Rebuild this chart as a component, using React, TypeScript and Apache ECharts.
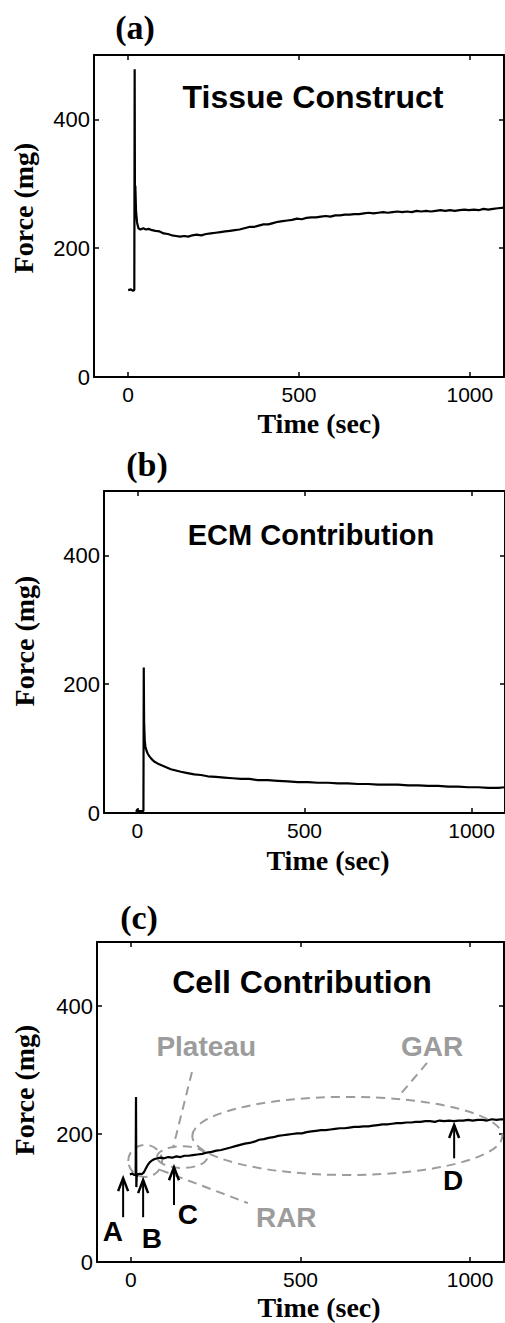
import React, { useEffect, useRef } from "react";
import * as echarts from "echarts";

// ---------- data (time in sec, force in mg) ----------
const tissueData: number[][] = [
  [0, 135], [8, 136], [14, 134], [18, 135], [19, 478], [20, 250], [21, 297], [23, 258], [26, 240], [30, 231],
  [36, 229], [44, 231], [52, 229], [60, 230], [70, 228], [80, 227], [92, 226], [104, 223], [116, 222], [128, 220],
  [140, 219], [152, 218], [164, 219], [176, 218], [188, 220], [200, 221], [214, 220], [228, 222], [242, 223], [256, 224],
  [270, 225], [284, 226], [298, 227], [312, 228], [326, 229], [340, 231], [354, 233], [368, 233], [382, 235], [396, 237],
  [410, 237], [424, 239], [438, 241], [452, 242], [466, 243], [480, 244], [494, 246], [508, 245], [522, 247], [536, 248],
  [550, 248], [564, 249], [578, 250], [592, 249], [606, 251], [620, 251], [634, 252], [648, 252], [662, 253], [676, 253],
  [690, 254], [704, 255], [718, 254], [732, 255], [746, 256], [760, 255], [774, 256], [788, 257], [802, 256], [816, 257],
  [830, 256], [844, 258], [858, 257], [872, 258], [886, 257], [900, 258], [914, 259], [928, 258], [942, 259], [956, 258],
  [970, 259], [984, 260], [998, 259], [1012, 260], [1026, 259], [1040, 261], [1054, 260], [1068, 261], [1082, 262], [1100, 263],
];

const ecmData: number[][] = [
  [-4, 2], [0, 6], [2, 3], [18, 3], [19, 226], [20, 142], [21, 126], [22, 112], [24, 103], [27, 97],
  [31, 92], [36, 88], [42, 84], [50, 80], [60, 77], [72, 74], [86, 71], [100, 68], [115, 66], [130, 64],
  [150, 62], [170, 60], [190, 59], [210, 57], [235, 56], [260, 55], [285, 54], [310, 53], [335, 53], [360, 51],
  [390, 51], [420, 50], [450, 49], [480, 48], [510, 48], [540, 47], [570, 47], [600, 46], [630, 46], [660, 45],
  [690, 45], [720, 44], [750, 44], [780, 44], [810, 43], [840, 43], [870, 42], [900, 42], [930, 41], [960, 41],
  [990, 40], [1020, 40], [1050, 39], [1080, 39], [1100, 40],
];

const cellData: number[][] = [
  [-3, 137], [4, 138], [10, 136], [14, 137], [15, 258], [16, 117], [17, 133], [20, 137], [26, 138], [32, 137],
  [38, 140], [44, 146], [50, 152], [56, 156], [63, 159], [70, 161], [78, 162], [88, 163], [98, 162], [110, 164],
  [122, 163], [134, 165], [146, 164], [158, 166], [170, 166], [182, 167], [196, 168], [210, 169], [224, 171], [238, 172],
  [252, 174], [266, 175], [280, 177], [294, 179], [308, 181], [322, 183], [336, 185], [350, 186], [364, 188], [378, 191],
  [392, 192], [406, 194], [420, 195], [434, 197], [448, 198], [462, 199], [476, 200], [490, 201], [504, 201], [518, 203],
  [532, 204], [546, 205], [560, 206], [574, 206], [588, 207], [602, 208], [616, 209], [630, 209], [644, 210], [658, 211],
  [672, 211], [686, 212], [700, 212], [714, 213], [728, 214], [742, 215], [756, 215], [770, 216], [784, 217], [798, 217],
  [812, 218], [826, 218], [840, 219], [854, 219], [868, 220], [882, 220], [896, 219], [910, 221], [924, 220], [938, 221],
  [952, 220], [966, 221], [980, 221], [994, 222], [1008, 221], [1022, 222], [1036, 222], [1050, 221], [1064, 223], [1078, 222],
  [1092, 223], [1100, 223],
];

const xTicks = [0, 500, 1000];
const yTicks = [0, 200, 400];
const panelLabels = ["(a)", "(b)", "(c)"];
const panelTitles = ["Tissue Construct", "ECM Contribution", "Cell Contribution"];
const xName = "Time (sec)";
const yName = "Force (mg)";

// annotations of panel (c), in data coordinates
const ellipses: number[][] = [
  [42, 158, 50, 25], // around B
  [151, 164, 74, 17], // RAR
  [638, 197, 457, 61], // GAR
];
const leaders: number[][] = [
  [180, 297, 124, 178], // Plateau
  [873, 311, 788, 258], // GAR
  [86, 144, 345, 92], // RAR
];
const arrows: number[][] = [
  [-23, 70, 131],
  [36, 70, 128],
  [127, 89, 148],
  [953, 162, 214],
];
const arrowLabels = ["A", "B", "C", "D"];
const arrowLabelPos: number[][] = [[-53, 47], [62, 37], [168, 75], [950, 128]];
const regionLabels = ["Plateau", "GAR", "RAR"];
const regionLabelPos: number[][] = [[222, 336], [888, 336], [458, 70]];

const series = [tissueData, ecmData, cellData];

const grids = [
  { left: 94, top: 55, width: 410, height: 322 },
  { left: 104, top: 491, width: 411, height: 322 },
  { left: 97, top: 942, width: 407, height: 320 },
];
const panelLabelPos = [[135, 27], [147, 464], [139, 917]];
const titlePos = [[313, 97], [311, 535], [302, 982]];
const titleSize = [32, 29, 32];
const yNamePos = [[23, 208], [24, 641], [24, 1090]];
const xNamePos = [[319, 423], [328, 860], [319, 1307]];

const SANS = "'Liberation Sans', Arial, sans-serif";
const SERIF = "'Liberation Serif', 'Times New Roman', serif";
const GRAY = "#9c9c9c";

export default function App() {
  const ref = useRef<HTMLDivElement>(null);
  useEffect(() => {
    if (!ref.current) return;
    const chart = echarts.init(ref.current, undefined, { renderer: "svg" });
    const xAxes: any[] = [];
    const yAxes: any[] = [];
    const plain = (v: number) => String(v);
    grids.forEach((_, i) => {
      const tickStyle = { color: "#000", width: 1.5 };
      xAxes.push({
        type: "value", gridIndex: i, min: -100, max: 1100, position: "bottom",
        axisLine: { show: true, onZero: false, lineStyle: { color: "#000", width: 2 } },
        axisTick: { show: true, inside: true, length: 5, customValues: xTicks, lineStyle: tickStyle },
        axisLabel: { show: true, customValues: xTicks, formatter: plain, fontSize: 21, lineHeight: 21, color: "#000", fontFamily: SANS, margin: 7 },
        splitLine: { show: false },
      });
      xAxes.push({
        type: "value", gridIndex: i, min: -100, max: 1100, position: "top",
        axisLine: { show: true, onZero: false, lineStyle: { color: "#000", width: 2 } },
        axisTick: { show: true, inside: true, length: 5, customValues: xTicks, lineStyle: tickStyle },
        axisLabel: { show: false },
        splitLine: { show: false },
      });
      yAxes.push({
        type: "value", gridIndex: i, min: 0, max: 500, position: "left",
        axisLine: { show: true, onZero: false, lineStyle: { color: "#000", width: 2 } },
        axisTick: { show: true, inside: true, length: 5, customValues: yTicks, lineStyle: tickStyle },
        axisLabel: { show: true, customValues: yTicks, formatter: plain, fontSize: 22, color: "#000", fontFamily: SANS, margin: 4 },
        splitLine: { show: false },
      });
      yAxes.push({
        type: "value", gridIndex: i, min: 0, max: 500, position: "right",
        axisLine: { show: true, onZero: false, lineStyle: { color: "#000", width: 2 } },
        axisTick: { show: true, inside: true, length: 5, customValues: yTicks, lineStyle: tickStyle },
        axisLabel: { show: false },
        splitLine: { show: false },
      });
    });

    const lineSeries = series.map((d, i) => ({
      type: "line",
      xAxisIndex: i * 2,
      yAxisIndex: i * 2,
      data: d,
      showSymbol: false,
      symbol: "none",
      lineStyle: { color: "#000", width: 2.2 },
      silent: true,
      clip: true,
    }));

    const ax = { xAxisIndex: 4, yAxisIndex: 4, silent: true, clip: false };

    const annotationSeries: any[] = [
      {
        type: "custom", ...ax,
        data: ellipses,
        renderItem: (_p: any, api: any) => {
          const c = api.coord([api.value(0), api.value(1)]);
          const s = api.size([api.value(2), api.value(3)]);
          return {
            type: "ellipse",
            shape: { cx: c[0], cy: c[1], rx: s[0], ry: s[1] },
            style: { fill: "none", stroke: GRAY, lineWidth: 2, lineDash: [9, 6] },
          };
        },
      },
      {
        type: "custom", ...ax,
        data: leaders,
        renderItem: (_p: any, api: any) => {
          const a = api.coord([api.value(0), api.value(1)]);
          const b = api.coord([api.value(2), api.value(3)]);
          return {
            type: "line",
            shape: { x1: a[0], y1: a[1], x2: b[0], y2: b[1] },
            style: { stroke: GRAY, lineWidth: 2, lineDash: [9, 6] },
          };
        },
      },
      {
        type: "custom", ...ax,
        data: arrows,
        renderItem: (_p: any, api: any) => {
          const a = api.coord([api.value(0), api.value(1)]);
          const b = api.coord([api.value(0), api.value(2)]);
          return {
            type: "group",
            children: [
              { type: "line", shape: { x1: a[0], y1: a[1], x2: b[0], y2: b[1] }, style: { stroke: "#000", lineWidth: 2 } },
              {
                type: "polyline",
                shape: { points: [[b[0] - 5, b[1] + 13], [b[0], b[1]], [b[0] + 5, b[1] + 13]] },
                style: { stroke: "#000", fill: "none", lineWidth: 2.5 },
              },
            ],
          };
        },
      },
      {
        type: "custom", ...ax,
        data: arrowLabelPos,
        renderItem: (p: any, api: any) => {
          const c = api.coord([api.value(0), api.value(1)]);
          return {
            type: "text", x: c[0], y: c[1],
            style: { text: arrowLabels[p.dataIndex], font: `bold 28px ${SANS}`, fill: "#000", align: "center", verticalAlign: "middle" },
          };
        },
      },
      {
        type: "custom", ...ax,
        data: regionLabelPos,
        renderItem: (p: any, api: any) => {
          const c = api.coord([api.value(0), api.value(1)]);
          return {
            type: "text", x: c[0], y: c[1],
            style: { text: regionLabels[p.dataIndex], font: `bold 28px ${SANS}`, fill: GRAY, align: "center", verticalAlign: "middle" },
          };
        },
      },
    ];

    const graphics: any[] = [];
    grids.forEach((_, i) => {
      graphics.push({
        type: "text", x: panelLabelPos[i][0], y: panelLabelPos[i][1],
        style: { text: panelLabels[i], font: `bold 34px ${SERIF}`, fill: "#000", align: "center", verticalAlign: "middle" },
      });
      graphics.push({
        type: "text", x: titlePos[i][0], y: titlePos[i][1],
        style: { text: panelTitles[i], font: `bold ${titleSize[i]}px ${SANS}`, fill: "#000", align: "center", verticalAlign: "middle" },
      });
      graphics.push({
        type: "text", x: yNamePos[i][0], y: yNamePos[i][1], rotation: Math.PI / 2,
        style: { text: yName, font: `bold 28px ${SERIF}`, fill: "#000", align: "center", verticalAlign: "middle" },
      });
      graphics.push({
        type: "text", x: xNamePos[i][0], y: xNamePos[i][1],
        style: { text: xName, font: `bold 28px ${SERIF}`, fill: "#000", align: "center", verticalAlign: "middle" },
      });
    });

    chart.setOption({
      animation: false,
      backgroundColor: "#fff",
      grid: grids.map((g) => ({ ...g, containLabel: false })),
      xAxis: xAxes,
      yAxis: yAxes,
      series: [...lineSeries, ...annotationSeries],
      graphic: graphics,
    });
    return () => chart.dispose();
  }, []);
  return (
    <div
      ref={ref}
      style={{ position: "absolute", left: 0, top: 0, width: 505, height: 1323, overflow: "hidden" }}
    />
  );
}
